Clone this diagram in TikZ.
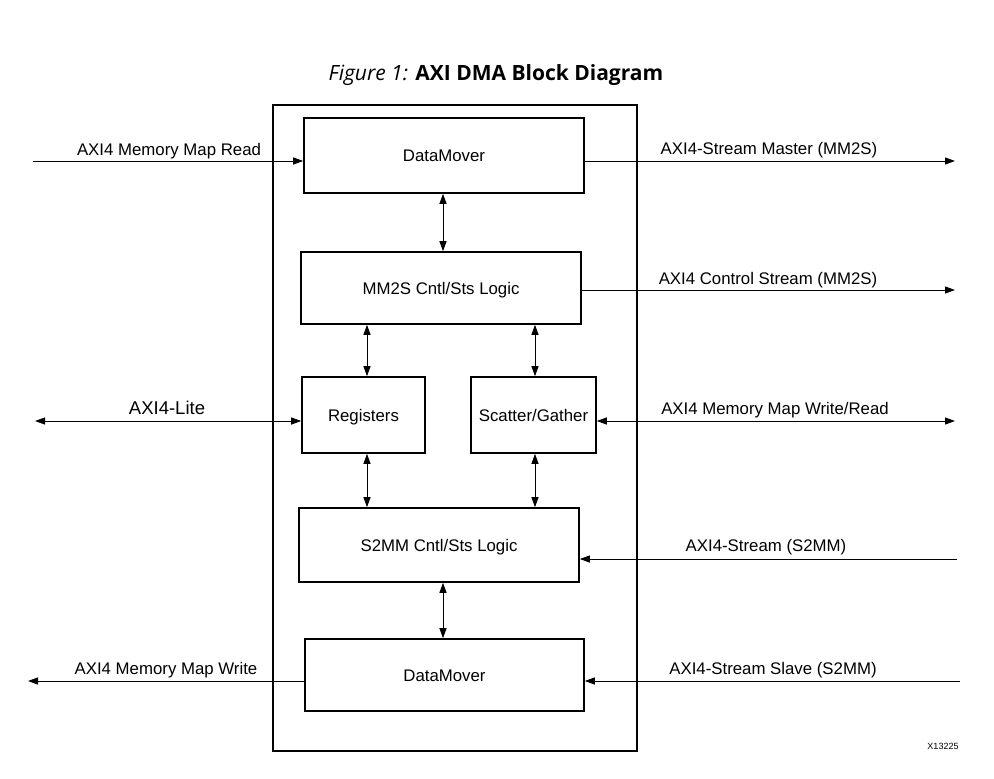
\documentclass[tikz,border=0pt]{standalone}
\usepackage{fontspec}
\setmainfont{Liberation Sans}
\newfontfamily\titlefont{Open Sans}
\usetikzlibrary{arrows.meta}

\tikzset{
  blk/.style={draw, line width=1.6pt, inner sep=0pt, text height=12pt, text depth=0pt,
    font=\fontsize{16.8}{20}\selectfont},
  lbl/.style={anchor=base, inner sep=0pt, font=\fontsize{16.8}{20}\selectfont},
  sig/.style={line width=1pt, -{Triangle[length=10pt,width=7pt]}},
  bsig/.style={line width=1pt, {Triangle[length=10pt,width=7pt]}-{Triangle[length=10pt,width=7pt]}}
}

\begin{document}
\begin{tikzpicture}[x=1pt,y=-1pt]

        \useasboundingbox (0,0) rectangle (994,779);

        \node[anchor=base, inner sep=0pt] (title) at (496,80)
          {\titlefont\fontsize{21}{25}\selectfont\textit{Figure 1:} \textbf{AXI DMA Block Diagram}};

        \draw[line width=1.6pt] (273,105) rectangle (637,751);

        \begin{scope}[every node/.style={blk}]
          \node[minimum width=280pt, minimum height=75pt] (dmt)  at (444,155.5) {DataMover};
          \node[minimum width=280pt, minimum height=72pt] (mm2s) at (441,288)   {MM2S Cntl/Sts Logic};
          \node[minimum width=123pt, minimum height=76pt] (regs) at (363.5,415) {Registers};
          \node[minimum width=125pt, minimum height=76pt] (sg)   at (533.5,415) {Scatter/Gather};
          \node[minimum width=280pt, minimum height=74pt] (s2mm) at (439,545)   {S2MM Cntl/Sts Logic};
          \node[minimum width=279pt, minimum height=72pt] (dmb)  at (444.5,675) {DataMover};
        \end{scope}

        \begin{scope}[every node/.style={lbl}]
          \node (lmmr)  at (169,155) {AXI4 Memory Map Read};
          \node (lmm2s) at (769,154) {AXI4-Stream Master (MM2S)};
          \node (lctl)  at (768,284) {AXI4 Control Stream (MM2S)};
          \node[font=\fontsize{18.5}{22}\selectfont] (llite) at (167,414) {AXI4-Lite};
          \node (lmmwr) at (775,414) {AXI4 Memory Map Write/Read};
          \node (ls2mm) at (766,551) {AXI4-Stream (S2MM)};
          \node (lmmw)  at (166,674) {AXI4 Memory Map Write};
          \node (lslv)  at (773,674) {AXI4-Stream Slave (S2MM)};
        \end{scope}

        \node[inner sep=0pt, font=\fontsize{9}{10}\selectfont] (fig) at (943,746) {X13225};

        \coordinate (mmr)   at (33,161);
        \coordinate (mm2so) at (955,161);
        \coordinate (ctlo)  at (955,290);
        \coordinate (lite)  at (35,421);
        \coordinate (mmwr)  at (955,421);
        \coordinate (s2mmi) at (957,559);
        \coordinate (slvi)  at (960,681);
        \coordinate (mmwo)  at (28,681);

        \coordinate (c1) at (443,0);
        \coordinate (c2) at (367,0);
        \coordinate (c3) at (535,0);

        \path[sig]  (mmr) edge (mmr -| dmt.west);
        \path[sig]  (dmt.east |- mm2so) edge (mm2so);
        \path[sig]  (mm2s.east |- ctlo) edge (ctlo);
        \path[bsig] (lite) edge (lite -| regs.west);
        \path[bsig] (sg.east |- mmwr) edge (mmwr);
        \path[sig]  (s2mmi) edge (s2mmi -| s2mm.east);
        \path[sig]  (slvi) edge (slvi -| dmb.east);
        \path[sig]  (dmb.west |- mmwo) edge (mmwo);

        \path[bsig] (c1 |- dmt.south)  edge (c1 |- mm2s.north);
        \path[bsig] (c2 |- mm2s.south) edge (c2 |- regs.north);
        \path[bsig] (c3 |- mm2s.south) edge (c3 |- sg.north);
        \path[bsig] (c2 |- regs.south) edge (c2 |- s2mm.north);
        \path[bsig] (c3 |- sg.south)   edge (c3 |- s2mm.north);
        \path[bsig] (c1 |- s2mm.south) edge (c1 |- dmb.north);

      \end{tikzpicture}
\end{document}
